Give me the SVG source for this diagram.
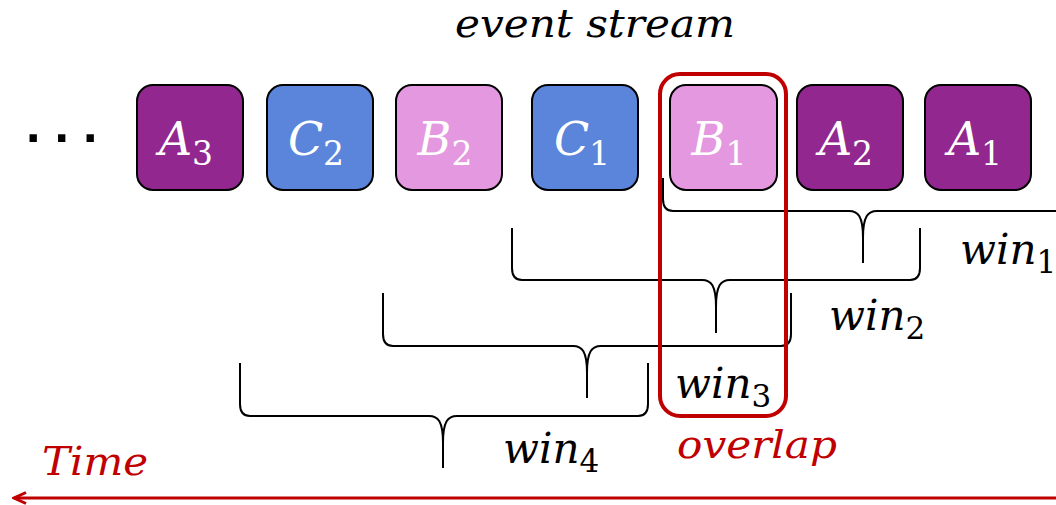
<svg xmlns="http://www.w3.org/2000/svg" width="1056" height="505" viewBox="0 0 1056 505">
  <style>
    .ev { stroke: #000; stroke-width: 2; }
    .a { fill: #92278F; }
    .b { fill: #E498E0; }
    .c { fill: #5B84DB; }
    .lbl { font-family: "DejaVu Serif", "Liberation Serif", serif; font-style: italic; font-size: 46px; fill: #fff; text-anchor: middle; }
    .sub { font-style: normal; font-size: 33px; }
    .brace { fill: none; stroke: #000; stroke-width: 2; stroke-linejoin: round; }
    .win { font-family: "DejaVu Serif", "Liberation Serif", serif; font-style: italic; font-size: 42px; fill: #000; }
    .wsub { font-style: normal; font-size: 31px; }
    .title { font-family: "DejaVu Serif", "Liberation Serif", serif; font-style: italic; font-size: 40px; fill: #000; }
    .red { font-family: "DejaVu Serif", "Liberation Serif", serif; font-style: italic; font-size: 40px; fill: #C00000; }
  </style>
  <defs>
    <marker id="head" viewBox="-14 -7 16 14" markerWidth="16" markerHeight="14" refX="0" refY="0" orient="auto" markerUnits="userSpaceOnUse">
      <path d="M-12,-5.5 L0,0 L-12,5.5" fill="none" stroke="#C00000" stroke-width="3"/>
    </marker>
  </defs>

  <rect width="1056" height="505" fill="#fff"/>

  <text class="title" x="455" y="37" textLength="280" lengthAdjust="spacingAndGlyphs">event stream</text>

  <!-- window braces -->
  <g id="connectors">
    <path class="brace" d="M663,178 V199 Q663,211 673,211 H849 C858,211 863,216 863,238 V263 M863,238 C863,216 868,211 877,211 H1060"/>
    <path class="brace" d="M512,228 V268 Q512,280 522,280 H702 C711,280 716,285 716,307 V333 M716,307 C716,285 721,280 730,280 H910 Q920,280 920,268 V228"/>
    <path class="brace" d="M383,293 V334 Q383,346 393,346 H573 C582,346 587,351 587,373 V398 M587,373 C587,351 592,346 601,346 H781 Q791,346 791,334 V293"/>
    <path class="brace" d="M240,363 V404 Q240,416 250,416 H429 C438,416 443,421 443,443 V468 M443,443 C443,421 448,416 457,416 H638 Q648,416 648,404 V363"/>
  </g>

  <!-- ellipsis before the stream -->
  <text x="26" y="142" font-family="Liberation Sans, sans-serif" font-weight="bold" font-size="52" letter-spacing="14" fill="#000">...</text>

  <!-- events -->
  <g id="A3"><rect class="ev a" x="137" y="85" width="106" height="105" rx="16"/><text class="lbl" x="186" y="155">A<tspan class="sub" dy="10">3</tspan></text></g>
  <g id="C2"><rect class="ev c" x="267" y="85" width="106" height="105" rx="16"/><text class="lbl" x="316" y="155">C<tspan class="sub" dy="10">2</tspan></text></g>
  <g id="B2"><rect class="ev b" x="396" y="85" width="106" height="105" rx="16"/><text class="lbl" x="445" y="155">B<tspan class="sub" dy="10">2</tspan></text></g>
  <g id="C1"><rect class="ev c" x="532" y="85" width="106" height="105" rx="16"/><text class="lbl" x="582" y="155">C<tspan class="sub" dy="10">1</tspan></text></g>
  <g id="B1"><rect class="ev b" x="670" y="85" width="107" height="105" rx="16"/><text class="lbl" x="719" y="155">B<tspan class="sub" dy="10">1</tspan></text></g>
  <g id="A2"><rect class="ev a" x="797" y="85" width="106" height="105" rx="16"/><text class="lbl" x="846" y="155">A<tspan class="sub" dy="10">2</tspan></text></g>
  <g id="A1"><rect class="ev a" x="925" y="85" width="106" height="105" rx="16"/><text class="lbl" x="975" y="155">A<tspan class="sub" dy="10">1</tspan></text></g>

  <!-- overlap region -->
  <g id="overlap">
    <rect x="660" y="74" width="126" height="342" rx="20" fill="none" stroke="#C00000" stroke-width="4"/>
    <text class="red" x="677" y="458" textLength="160" lengthAdjust="spacingAndGlyphs">overlap</text>
  </g>

  <!-- window labels -->
  <g id="win1"><text class="win" x="960" y="264">win<tspan class="wsub" dy="9">1</tspan></text></g>
  <g id="win2"><text class="win" x="829" y="330">win<tspan class="wsub" dy="9">2</tspan></text></g>
  <g id="win3"><text class="win" x="675" y="398">win<tspan class="wsub" dy="9">3</tspan></text></g>
  <g id="win4"><text class="win" x="503" y="463">win<tspan class="wsub" dy="9">4</tspan></text></g>

  <!-- time axis -->
  <g id="time">
    <text class="red" x="42" y="475" textLength="106" lengthAdjust="spacingAndGlyphs">Time</text>
    <line x1="1056" y1="498" x2="14" y2="498" stroke="#C00000" stroke-width="3" marker-end="url(#head)"/>
  </g>
</svg>
